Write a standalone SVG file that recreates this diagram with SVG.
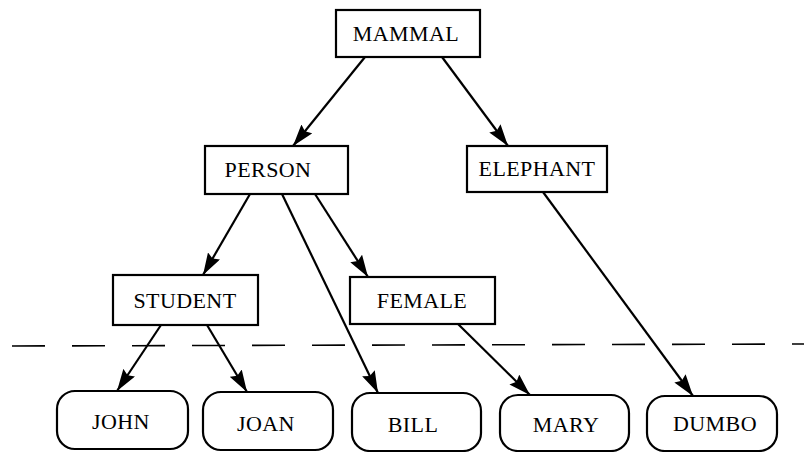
<svg xmlns="http://www.w3.org/2000/svg" width="804" height="452" viewBox="0 0 804 452">
  <defs>
    <marker id="arrow" viewBox="0 0 22 14" markerWidth="22" markerHeight="14" refX="22" refY="7" orient="auto" markerUnits="userSpaceOnUse">
      <path d="M0,0 L22,7 L0,14 L3,7 Z" fill="#000"/>
    </marker>
    <style>
      .box { fill: #fff; stroke: #000; stroke-width: 2.2; }
      .label { font-family: "Liberation Serif", "Times New Roman", serif; font-size: 22px; fill: #000; text-anchor: middle; letter-spacing: 0.4px; }
      .edge { stroke: #000; stroke-width: 2.2; fill: none; marker-end: url(#arrow); }
      .divider { stroke: #000; stroke-width: 1.6; stroke-dasharray: 33 27; fill: none; }
    </style>
  </defs>
  <rect width="804" height="452" fill="#fff"/>

  <!-- boundary between classes and instances -->
  <line class="divider" x1="12" y1="346" x2="804" y2="344"/>

  <!-- connectors -->
  <g id="edges">
    <line class="edge" x1="365" y1="57" x2="293" y2="146"/>
    <line class="edge" x1="442" y1="57" x2="508" y2="146"/>
    <line class="edge" x1="250" y1="194" x2="203" y2="275"/>
    <line class="edge" x1="315" y1="194" x2="368" y2="277"/>
    <line class="edge" x1="282" y1="194" x2="378" y2="393"/>
    <line class="edge" x1="543" y1="192" x2="693" y2="396"/>
    <line class="edge" x1="161" y1="325" x2="117" y2="391"/>
    <line class="edge" x1="207" y1="325" x2="247" y2="392"/>
    <line class="edge" x1="458" y1="324" x2="530" y2="395"/>
  </g>

  <!-- class nodes -->
  <g id="mammal">
    <rect class="box" x="336" y="10" width="144" height="47"/>
    <text class="label" x="406" y="41">MAMMAL</text>
  </g>
  <g id="person">
    <rect class="box" x="205" y="146" width="143" height="48"/>
    <text class="label" x="268" y="177">PERSON</text>
  </g>
  <g id="elephant">
    <rect class="box" x="467" y="146" width="140" height="46"/>
    <text class="label" x="537" y="176">ELEPHANT</text>
  </g>
  <g id="student">
    <rect class="box" x="113" y="275" width="145" height="50"/>
    <text class="label" x="185" y="308">STUDENT</text>
  </g>
  <g id="female">
    <rect class="box" x="350" y="277" width="145" height="47"/>
    <text class="label" x="422" y="308">FEMALE</text>
  </g>

  <!-- instance nodes -->
  <g id="john">
    <rect class="box" x="57" y="391" width="131" height="58" rx="18"/>
    <text class="label" x="121" y="429">JOHN</text>
  </g>
  <g id="joan">
    <rect class="box" x="203" y="392" width="130" height="58" rx="18"/>
    <text class="label" x="266" y="431">JOAN</text>
  </g>
  <g id="bill">
    <rect class="box" x="352" y="393" width="129" height="58" rx="18"/>
    <text class="label" x="413" y="432">BILL</text>
  </g>
  <g id="mary">
    <rect class="box" x="500" y="395" width="129" height="56" rx="18"/>
    <text class="label" x="566" y="432">MARY</text>
  </g>
  <g id="dumbo">
    <rect class="box" x="647" y="396" width="130" height="55" rx="18"/>
    <text class="label" x="715" y="431">DUMBO</text>
  </g>
</svg>
